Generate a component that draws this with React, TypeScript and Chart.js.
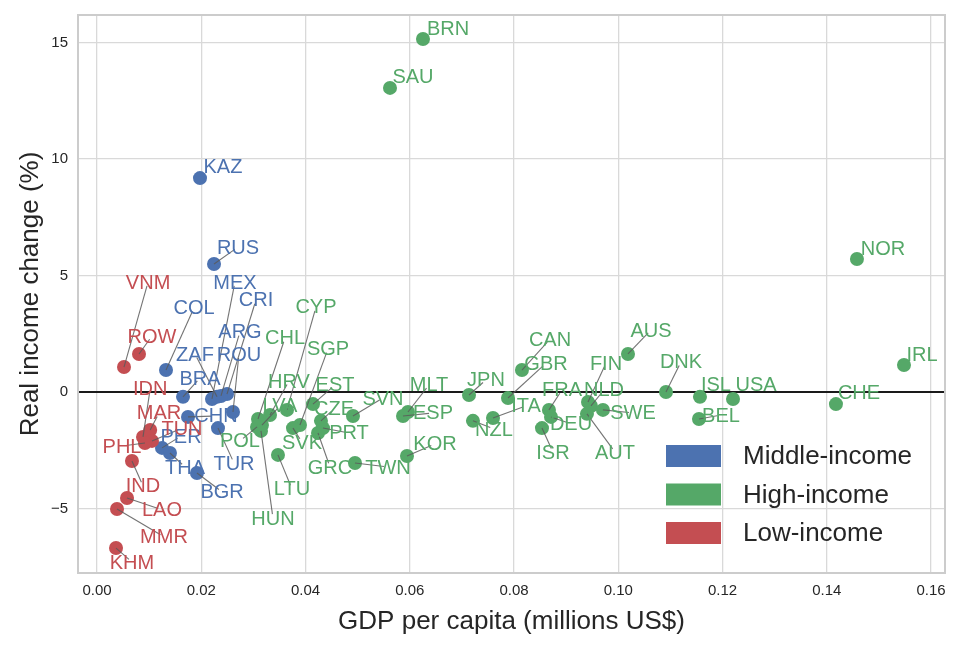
import React, { useEffect, useRef } from "react";
import { Chart, registerables } from "chart.js";

Chart.register(...registerables);

// ---------- data ----------
const middleNames = ["KAZ", "RUS", "MEX", "CRI", "ARG", "ZAF", "ROU", "BRA", "CHN", "TUR", "PER", "THA", "BGR", "COL"];
const middleGdp = [0.01976, 0.02245, 0.02206, 0.02494, 0.02379, 0.02302, 0.02609, 0.0165, 0.01746, 0.02321, 0.01247, 0.014, 0.01918, 0.01324];
const middleChange = [9.18, 5.49, -0.3, -0.09, -0.17, -0.21, -0.86, -0.21, -1.07, -1.55, -2.4, -2.62, -3.48, 0.94];
const middleLabelGdp = [0.02417, 0.02705, 0.02647, 0.0305, 0.02743, 0.0188, 0.02724, 0.01976, 0.02283, 0.02628, 0.01612, 0.01688, 0.024, 0.01861];
const middleLabelChange = [9.66, 6.22, 4.72, 3.95, 2.58, 1.63, 1.63, 0.6, -1.03, -3.05, -1.89, -3.22, -4.29, 3.61];

const highNames = ["BRN", "SAU", "NOR", "IRL", "CHE", "USA", "ISL", "BEL", "DNK", "AUS", "FIN", "NLD", "FRA", "DEU", "ISR", "AUT", "SWE", "CAN", "GBR", "ITA", "NZL", "JPN", "MLT", "ESP", "KOR", "TWN", "GRC", "PRT", "CZE", "EST", "SVN", "SGP", "SVK", "CYP", "CHL", "HRV", "LVA", "POL", "HUN", "LTU"];
const highGdp = [0.06254, 0.05621, 0.1458, 0.15482, 0.14177, 0.12202, 0.11568, 0.11549, 0.10916, 0.10187, 0.0942, 0.09477, 0.08671, 0.0871, 0.08537, 0.094, 0.09707, 0.08153, 0.07885, 0.07597, 0.07213, 0.07137, 0.05966, 0.05871, 0.05947, 0.0495, 0.0424, 0.04336, 0.04297, 0.04144, 0.04911, 0.03894, 0.0376, 0.03645, 0.03089, 0.03319, 0.03165, 0.0307, 0.03146, 0.03472];
const highChange = [15.15, 13.05, 5.71, 1.16, -0.52, -0.3, -0.21, -1.16, 0.0, 1.63, -0.43, -0.6, -0.77, -1.07, -1.55, -0.94, -0.77, 0.94, -0.26, -1.12, -1.24, -0.13, -0.86, -1.03, -2.75, -3.05, -1.76, -1.55, -1.24, -0.52, -1.03, -1.42, -1.55, -0.77, -1.16, -0.99, -1.42, -1.5, -1.67, -2.7];
const highLabelGdp = [0.06734, 0.06062, 0.1508, 0.15827, 0.14619, 0.12643, 0.11875, 0.11971, 0.11204, 0.10628, 0.09765, 0.09727, 0.08921, 0.09094, 0.08748, 0.09938, 0.10283, 0.08691, 0.08614, 0.0823, 0.07616, 0.07463, 0.06369, 0.06446, 0.06484, 0.05583, 0.0447, 0.04835, 0.04547, 0.04566, 0.05487, 0.04432, 0.03933, 0.04201, 0.03607, 0.03683, 0.03511, 0.02743, 0.03376, 0.03741];
const highLabelChange = [15.62, 13.52, 6.18, 1.59, -0.04, 0.3, 0.3, -0.99, 1.29, 2.66, 1.24, 0.09, 0.09, -1.37, -2.58, -2.58, -0.9, 2.27, 1.24, -0.6, -1.59, 0.52, 0.3, -0.9, -2.23, -3.22, -3.22, -1.76, -0.73, 0.3, -0.26, 1.85, -2.15, 3.65, 2.32, 0.47, -0.6, -2.1, -5.41, -4.16];

const lowNames = ["VNM", "ROW", "IDN", "MAR", "TUN", "PHL", "IND", "LAO", "MMR", "KHM"];
const lowGdp = [0.00518, 0.00806, 0.00883, 0.0102, 0.01055, 0.0092, 0.00671, 0.00576, 0.00384, 0.00365];
const lowChange = [1.07, 1.63, -1.93, -1.63, -2.1, -2.19, -2.96, -4.55, -5.02, -6.7];
const lowLabelGdp = [0.0098, 0.01055, 0.0102, 0.0119, 0.0163, 0.0048, 0.00883, 0.01247, 0.01285, 0.00671];
const lowLabelChange = [4.72, 2.4, 0.13, -0.9, -1.55, -2.32, -4.03, -5.06, -6.22, -7.3];

// labels that sit at their point without a leader line
const unmovedLabels = ["KAZ", "BRN", "SAU", "NOR", "IRL", "CHE", "USA", "ISL"];

const xTicks = [0, 0.02, 0.04, 0.06, 0.08, 0.1, 0.12, 0.14, 0.16];
const yTicks = [-5, 0, 5, 10, 15];
const xRange = [-0.003645, 0.16269];
const yRange = [-7.77, 16.18];

const groupLabels = ["Middle-income", "High-income", "Low-income"];
const groupColors = ["#4C72B0", "#55A868", "#C44E52"];

const FONT = "'Liberation Sans', Arial, Helvetica, sans-serif";
const TEXT = "#262626";

const groups = [
  { names: middleNames, x: middleGdp, y: middleChange, lx: middleLabelGdp, ly: middleLabelChange },
  { names: highNames, x: highGdp, y: highChange, lx: highLabelGdp, ly: highLabelChange },
  { names: lowNames, x: lowGdp, y: lowChange, lx: lowLabelGdp, ly: lowLabelChange },
];

const zeroLinePlugin = {
  id: "zeroLine",
  beforeDatasetsDraw(chart: any) {
    const { ctx, chartArea, scales } = chart;
    const y0 = scales.y.getPixelForValue(0);
    ctx.save();
    ctx.strokeStyle = "#1a1a1a";
    ctx.lineWidth = 2;
    ctx.beginPath();
    ctx.moveTo(chartArea.left, y0);
    ctx.lineTo(chartArea.right, y0);
    ctx.stroke();
    ctx.restore();
  },
};

const annotatePlugin = {
  id: "annotate",
  afterDatasetsDraw(chart: any) {
    const { ctx, scales } = chart;
    const xs = scales.x, ys = scales.y;
    ctx.save();
    ctx.font = `20px ${FONT}`;
    ctx.strokeStyle = "rgba(90,90,90,0.85)";
    ctx.lineWidth = 1.1;
    groups.forEach((g) => {
      g.names.forEach((name, i) => {
        if (unmovedLabels.includes(name)) return;
        const px = xs.getPixelForValue(g.x[i]);
        const py = ys.getPixelForValue(g.y[i]);
        const lx = xs.getPixelForValue(g.lx[i]);
        const ly = ys.getPixelForValue(g.ly[i]);
        const dx = lx - px, dy = ly - py;
        const len = Math.hypot(dx, dy);
        if (len < 6) return;
        const k = (len - 4) / len;
        ctx.beginPath();
        ctx.moveTo(px, py);
        ctx.lineTo(px + dx * k, py + dy * k);
        ctx.stroke();
      });
    });
    ctx.textAlign = "center";
    ctx.textBaseline = "middle";
    groups.forEach((g, gi) => {
      ctx.fillStyle = groupColors[gi];
      g.names.forEach((name, i) => {
        const lx = xs.getPixelForValue(g.lx[i]);
        const ly = ys.getPixelForValue(g.ly[i]);
        ctx.fillText(name, lx, ly + 1);
      });
    });
    ctx.restore();
  },
};

const framePlugin = {
  id: "frameLegend",
  afterDraw(chart: any) {
    const { ctx, chartArea } = chart;
    ctx.save();
    ctx.strokeStyle = "#cccccc";
    ctx.lineWidth = 2;
    ctx.strokeRect(chartArea.left, chartArea.top, chartArea.right - chartArea.left, chartArea.bottom - chartArea.top);
    const left = chartArea.right - 279;
    const top = chartArea.top + 441;
    ctx.font = `26px ${FONT}`;
    ctx.textAlign = "left";
    ctx.textBaseline = "middle";
    groupLabels.forEach((lab, i) => {
      const cy = top + i * 38.5;
      ctx.fillStyle = groupColors[i];
      ctx.fillRect(left, cy - 11, 55, 22);
      ctx.fillStyle = TEXT;
      ctx.fillText(lab, left + 77, cy + 1);
    });
    ctx.restore();
  },
};

export default function App() {
  const ref = useRef<HTMLCanvasElement | null>(null);
  useEffect(() => {
    document.body.style.margin = "0";
    const canvas = ref.current!;
    const datasets = groups.map((g, gi) => ({
      label: groupLabels[gi],
      data: g.x.map((v, i) => ({ x: v, y: g.y[i] })),
      backgroundColor: groupColors[gi],
      borderWidth: 0,
      pointRadius: 7,
      pointHoverRadius: 7,
      order: 2 - gi,
    }));
    const chart = new Chart(canvas, {
      type: "scatter",
      data: { datasets },
      options: {
        animation: false,
        responsive: false,
        devicePixelRatio: 1,
        layout: { padding: { top: 15, right: 11, left: 0, bottom: 0 } },
        plugins: { legend: { display: false }, tooltip: { enabled: false } },
        scales: {
          x: {
            type: "linear",
            min: xRange[0],
            max: xRange[1],
            afterBuildTicks: (s: any) => { s.ticks = xTicks.map((v) => ({ value: v })); },
            afterFit: (s: any) => { s.height = 73; s.paddingLeft = 0; s.paddingRight = 0; },
            grid: { color: "#d9d9d9", lineWidth: 1.3, drawTicks: false },
            border: { display: false },
            ticks: {
              padding: 9,
              color: TEXT,
              font: { family: FONT, size: 15 },
              maxRotation: 0,
              callback: (v: any) => Number(v).toFixed(2),
            },
            title: {
              display: true,
              text: "GDP per capita (millions US$)",
              color: TEXT,
              font: { family: FONT, size: 26 },
              padding: { top: 0, bottom: 9 },
            },
          },
          y: {
            type: "linear",
            min: yRange[0],
            max: yRange[1],
            afterBuildTicks: (s: any) => { s.ticks = yTicks.map((v) => ({ value: v })); },
            afterFit: (s: any) => { s.width = 78; s.paddingTop = 0; s.paddingBottom = 0; },
            grid: { color: "#d9d9d9", lineWidth: 1.3, drawTicks: false },
            border: { display: false },
            ticks: {
              padding: 10,
              color: TEXT,
              font: { family: FONT, size: 15 },
              callback: (v: any) => (v < 0 ? "\u2212" + Math.abs(v) : String(v)),
            },
            title: {
              display: true,
              text: "Real income change (%)",
              color: TEXT,
              font: { family: FONT, size: 26 },
              padding: { top: 15, bottom: 0 },
            },
          },
        },
      },
      plugins: [zeroLinePlugin, annotatePlugin, framePlugin],
    } as any);
    return () => chart.destroy();
  }, []);
  return (
    <div style={{ position: "fixed", left: 0, top: 0, width: 956, height: 646, background: "#fff" }}>
      <canvas ref={ref} width={956} height={646} style={{ width: 956, height: 646, display: "block" }} />
    </div>
  );
}
